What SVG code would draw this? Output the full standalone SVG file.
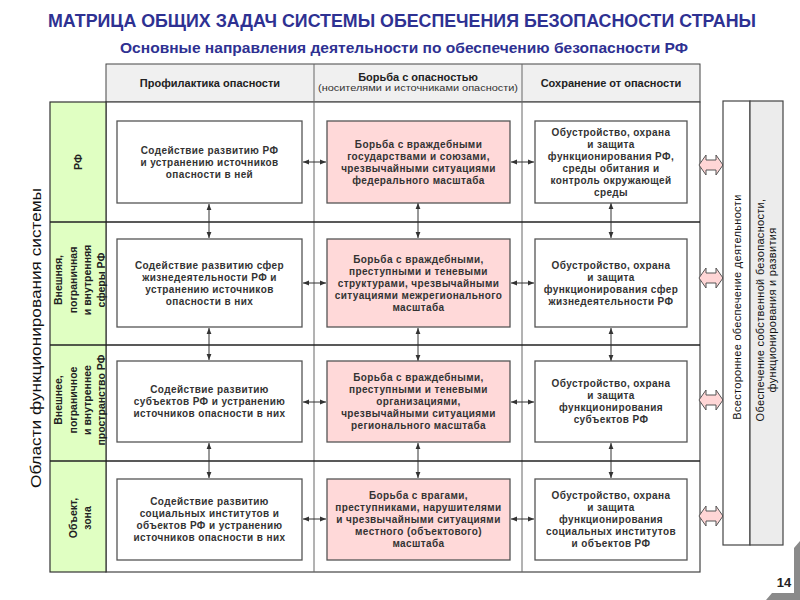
<svg xmlns="http://www.w3.org/2000/svg" width="800" height="600" viewBox="0 0 800 600">
<style>
.t{font-family:"Liberation Sans",Arial,sans-serif}
.title{font-family:"Liberation Sans",Arial,sans-serif;font-weight:bold;fill:#2e3192}
.hd{font-family:"Liberation Sans",Arial,sans-serif;font-size:11px;font-weight:bold;fill:#222;text-anchor:middle}
.bx{font-family:"Liberation Sans",Arial,sans-serif;font-size:10px;font-weight:bold;fill:#333;text-anchor:middle;letter-spacing:0.4px}
.lb{font-family:"Liberation Sans",Arial,sans-serif;font-size:10.5px;font-weight:bold;fill:#222;text-anchor:middle}
.wbox{fill:#fff;stroke:#555;stroke-width:1.3}
.pbox{fill:#ffd9d9;stroke:#555;stroke-width:1.3}
.conn{stroke:#333;stroke-width:1;fill:none;marker-start:url(#ah);marker-end:url(#ah)}
.barr{fill:#ffd6d6;stroke:#555;stroke-width:1}
</style>
<defs>
<marker id="ah" viewBox="0 0 10 10" refX="10" refY="5" markerWidth="6" markerHeight="6" orient="auto-start-reverse" markerUnits="userSpaceOnUse">
<path d="M0,1 L10,5 L0,9 Z" fill="#333"/>
</marker>
</defs>
<rect width="800" height="600" fill="#fff"/>

<text class="title" x="402" y="27" font-size="18" text-anchor="middle" textLength="708" lengthAdjust="spacingAndGlyphs">МАТРИЦА ОБЩИХ ЗАДАЧ СИСТЕМЫ ОБЕСПЕЧЕНИЯ БЕЗОПАСНОСТИ  СТРАНЫ</text>
<text class="title" x="404" y="53" font-size="14.5" text-anchor="middle" textLength="568" lengthAdjust="spacingAndGlyphs">Основные направления деятельности по обеспечению безопасности РФ</text>

<g id="matrix">
<rect x="106" y="64" width="594" height="38" fill="#f0f0f0" stroke="#444" stroke-width="1"/>
<rect x="106" y="102" width="594" height="470" fill="#fff" stroke="#444" stroke-width="1.2"/>
<rect x="50" y="102" width="56" height="470" fill="#e0ffc2" stroke="#333" stroke-width="1.2"/>
<line x1="314" y1="64" x2="314" y2="572" stroke="#666" stroke-width="1"/>
<line x1="522" y1="64" x2="522" y2="572" stroke="#666" stroke-width="1"/>
<line x1="50" y1="222" x2="700" y2="222" stroke="#222" stroke-width="1.6"/>
<line x1="50" y1="345" x2="700" y2="345" stroke="#222" stroke-width="1.6"/>
<line x1="50" y1="461" x2="700" y2="461" stroke="#222" stroke-width="1.6"/>
</g>

<g id="headers">
<text class="hd" x="210" y="87">Профилактика опасности</text>
<text class="hd" x="418" y="81">Борьба с опасностью</text>
<text class="t" x="418" y="91" font-size="9.5" fill="#333" text-anchor="middle" textLength="200" lengthAdjust="spacingAndGlyphs">(носителями и источниками опасности)</text>
<text class="hd" x="611" y="87">Сохранение от опасности</text>
</g>

<g id="side-title">
<text class="t" transform="translate(41,338) rotate(-90)" font-size="15" fill="#111" text-anchor="middle" textLength="300" lengthAdjust="spacingAndGlyphs">Области функционирования системы</text>
</g>

<g id="row-labels">
<text class="lb" transform="translate(82,162) rotate(-90)">РФ</text>
<g transform="translate(0,280)">
<text class="lb" transform="translate(62,0) rotate(-90)">Внешняя,</text>
<text class="lb" transform="translate(76.5,0) rotate(-90)">пограничная</text>
<text class="lb" transform="translate(91,0) rotate(-90)">и внутренняя</text>
<text class="lb" transform="translate(105,0) rotate(-90)">сферы РФ</text>
</g>
<g transform="translate(0,400)">
<text class="lb" transform="translate(62,0) rotate(-90)">Внешнее,</text>
<text class="lb" transform="translate(76.5,0) rotate(-90)">пограничное</text>
<text class="lb" transform="translate(91,0) rotate(-90)">и внутреннее</text>
<text class="lb" transform="translate(105,0) rotate(-90)">пространство РФ</text>
</g>
<g transform="translate(0,518)">
<text class="lb" transform="translate(77,0) rotate(-90)">Объект,</text>
<text class="lb" transform="translate(91,0) rotate(-90)">зона</text>
</g>
</g>

<g id="connectors">
<line class="conn" x1="209" y1="204" x2="209" y2="238"/>
<line class="conn" x1="418" y1="203" x2="418" y2="238"/>
<line class="conn" x1="611" y1="203" x2="611" y2="238"/>
<line class="conn" x1="209" y1="328" x2="209" y2="360"/>
<line class="conn" x1="418" y1="328" x2="418" y2="361"/>
<line class="conn" x1="611" y1="328" x2="611" y2="361"/>
<line class="conn" x1="209" y1="443" x2="209" y2="478"/>
<line class="conn" x1="418" y1="443" x2="418" y2="478"/>
<line class="conn" x1="611" y1="443" x2="611" y2="478"/>
<line class="conn" x1="303" y1="162" x2="326" y2="162"/>
<line class="conn" x1="511" y1="162" x2="534" y2="162"/>
<line class="conn" x1="303" y1="283" x2="326" y2="283"/>
<line class="conn" x1="511" y1="283" x2="534" y2="283"/>
<line class="conn" x1="303" y1="402" x2="326" y2="402"/>
<line class="conn" x1="511" y1="402" x2="534" y2="402"/>
<line class="conn" x1="303" y1="519" x2="326" y2="519"/>
<line class="conn" x1="511" y1="519" x2="534" y2="519"/>
<path class="barr" d="M699,165 L706,155 L706,160 L716,160 L716,155 L723,165 L716,175 L716,170 L706,170 L706,175 Z"/>
<path class="barr" d="M699,278 L706,268 L706,273 L716,273 L716,268 L723,278 L716,288 L716,283 L706,283 L706,288 Z"/>
<path class="barr" d="M699,400 L706,390 L706,395 L716,395 L716,390 L723,400 L716,410 L716,405 L706,405 L706,410 Z"/>
<path class="barr" d="M699,516 L706,506 L706,511 L716,511 L716,506 L723,516 L716,526 L716,521 L706,521 L706,526 Z"/>
</g>

<g id="n11"><rect class="wbox" x="117" y="121" width="185" height="82"/>
<text class="bx" x="209.5" y="154">Содействие развитию РФ</text>
<text class="bx" x="209.5" y="166">и устранению источников</text>
<text class="bx" x="209.5" y="178">опасности в ней</text></g>

<g id="n12"><rect class="pbox" x="327" y="121" width="183" height="82"/>
<text class="bx" x="418.5" y="148">Борьба с враждебными</text>
<text class="bx" x="418.5" y="160">государствами и союзами,</text>
<text class="bx" x="418.5" y="172">чрезвычайными ситуациями</text>
<text class="bx" x="418.5" y="184">федерального масштаба</text></g>

<g id="n13"><rect class="wbox" x="535" y="121" width="152" height="82"/>
<text class="bx" x="611" y="136">Обустройство, охрана</text>
<text class="bx" x="611" y="148">и защита</text>
<text class="bx" x="611" y="160">функционирования РФ,</text>
<text class="bx" x="611" y="172">среды обитания и</text>
<text class="bx" x="611" y="184">контроль окружающей</text>
<text class="bx" x="611" y="196">среды</text></g>

<g id="n21"><rect class="wbox" x="117" y="239" width="185" height="88"/>
<text class="bx" x="209.5" y="269">Содействие развитию сфер</text>
<text class="bx" x="209.5" y="281">жизнедеятельности РФ и</text>
<text class="bx" x="209.5" y="293">устранению источников</text>
<text class="bx" x="209.5" y="305">опасности в них</text></g>

<g id="n22"><rect class="pbox" x="327" y="239" width="183" height="88"/>
<text class="bx" x="418.5" y="263">Борьба с враждебными,</text>
<text class="bx" x="418.5" y="275">преступными и теневыми</text>
<text class="bx" x="418.5" y="287">структурами, чрезвычайными</text>
<text class="bx" x="418.5" y="299">ситуациями межрегионального</text>
<text class="bx" x="418.5" y="311">масштаба</text></g>

<g id="n23"><rect class="wbox" x="535" y="239" width="152" height="88"/>
<text class="bx" x="611" y="269">Обустройство, охрана</text>
<text class="bx" x="611" y="281">и защита</text>
<text class="bx" x="611" y="293">функционирования сфер</text>
<text class="bx" x="611" y="305">жизнедеятельности РФ</text></g>

<g id="n31"><rect class="wbox" x="117" y="361" width="185" height="81"/>
<text class="bx" x="209.5" y="393">Содействие развитию</text>
<text class="bx" x="209.5" y="405">субъектов РФ и устранению</text>
<text class="bx" x="209.5" y="417">источников опасности в них</text></g>

<g id="n32"><rect class="pbox" x="327" y="361" width="183" height="81"/>
<text class="bx" x="418.5" y="381">Борьба с враждебными,</text>
<text class="bx" x="418.5" y="393">преступными и теневыми</text>
<text class="bx" x="418.5" y="405">организациями,</text>
<text class="bx" x="418.5" y="417">чрезвычайными ситуациями</text>
<text class="bx" x="418.5" y="429">регионального масштаба</text></g>

<g id="n33"><rect class="wbox" x="535" y="361" width="152" height="81"/>
<text class="bx" x="611" y="387">Обустройство, охрана</text>
<text class="bx" x="611" y="399">и защита</text>
<text class="bx" x="611" y="411">функционирования</text>
<text class="bx" x="611" y="423">субъектов РФ</text></g>

<g id="n41"><rect class="wbox" x="117" y="479" width="185" height="81"/>
<text class="bx" x="209.5" y="505">Содействие развитию</text>
<text class="bx" x="209.5" y="517">социальных институтов и</text>
<text class="bx" x="209.5" y="529">объектов РФ и устранению</text>
<text class="bx" x="209.5" y="541">источников опасности в них</text></g>

<g id="n42"><rect class="pbox" x="327" y="479" width="183" height="81"/>
<text class="bx" x="418.5" y="499">Борьба с врагами,</text>
<text class="bx" x="418.5" y="511">преступниками, нарушителями</text>
<text class="bx" x="418.5" y="523">и чрезвычайными ситуациями</text>
<text class="bx" x="418.5" y="535">местного (объектового)</text>
<text class="bx" x="418.5" y="547">масштаба</text></g>

<g id="n43"><rect class="wbox" x="535" y="479" width="152" height="81"/>
<text class="bx" x="611" y="499">Обустройство, охрана</text>
<text class="bx" x="611" y="511">и защита</text>
<text class="bx" x="611" y="523">функционирования</text>
<text class="bx" x="611" y="535">социальных институтов</text>
<text class="bx" x="611" y="547">и объектов РФ</text></g>

<g id="right-panel">
<rect x="723" y="101" width="27" height="444" fill="#fff" stroke="#444" stroke-width="1.2"/>
<rect x="750" y="101" width="33" height="444" fill="#ececec" stroke="#444" stroke-width="1.2"/>
<text class="t" transform="translate(741,307) rotate(-90)" font-size="11" fill="#111" text-anchor="middle" letter-spacing="0.3">Всестороннее обеспечение деятельности</text>
<text class="t" transform="translate(764,310) rotate(-90)" font-size="11" fill="#111" text-anchor="middle" letter-spacing="0.3">Обеспечение собственной безопасности,</text>
<text class="t" transform="translate(776,310) rotate(-90)" font-size="11" fill="#111" text-anchor="middle" letter-spacing="0.3">функционирования и развития</text>
</g>

<g id="page-number">
<path d="M794,548 L800,541 L800,600 L766,600 L772,593 L794,593 Z" fill="#8a8a8a"/>
<rect x="772" y="548" width="22" height="45" fill="#fff"/>
<text class="t" x="784" y="587" font-size="13" font-weight="bold" fill="#222" text-anchor="middle">14</text>
</g>
</svg>
